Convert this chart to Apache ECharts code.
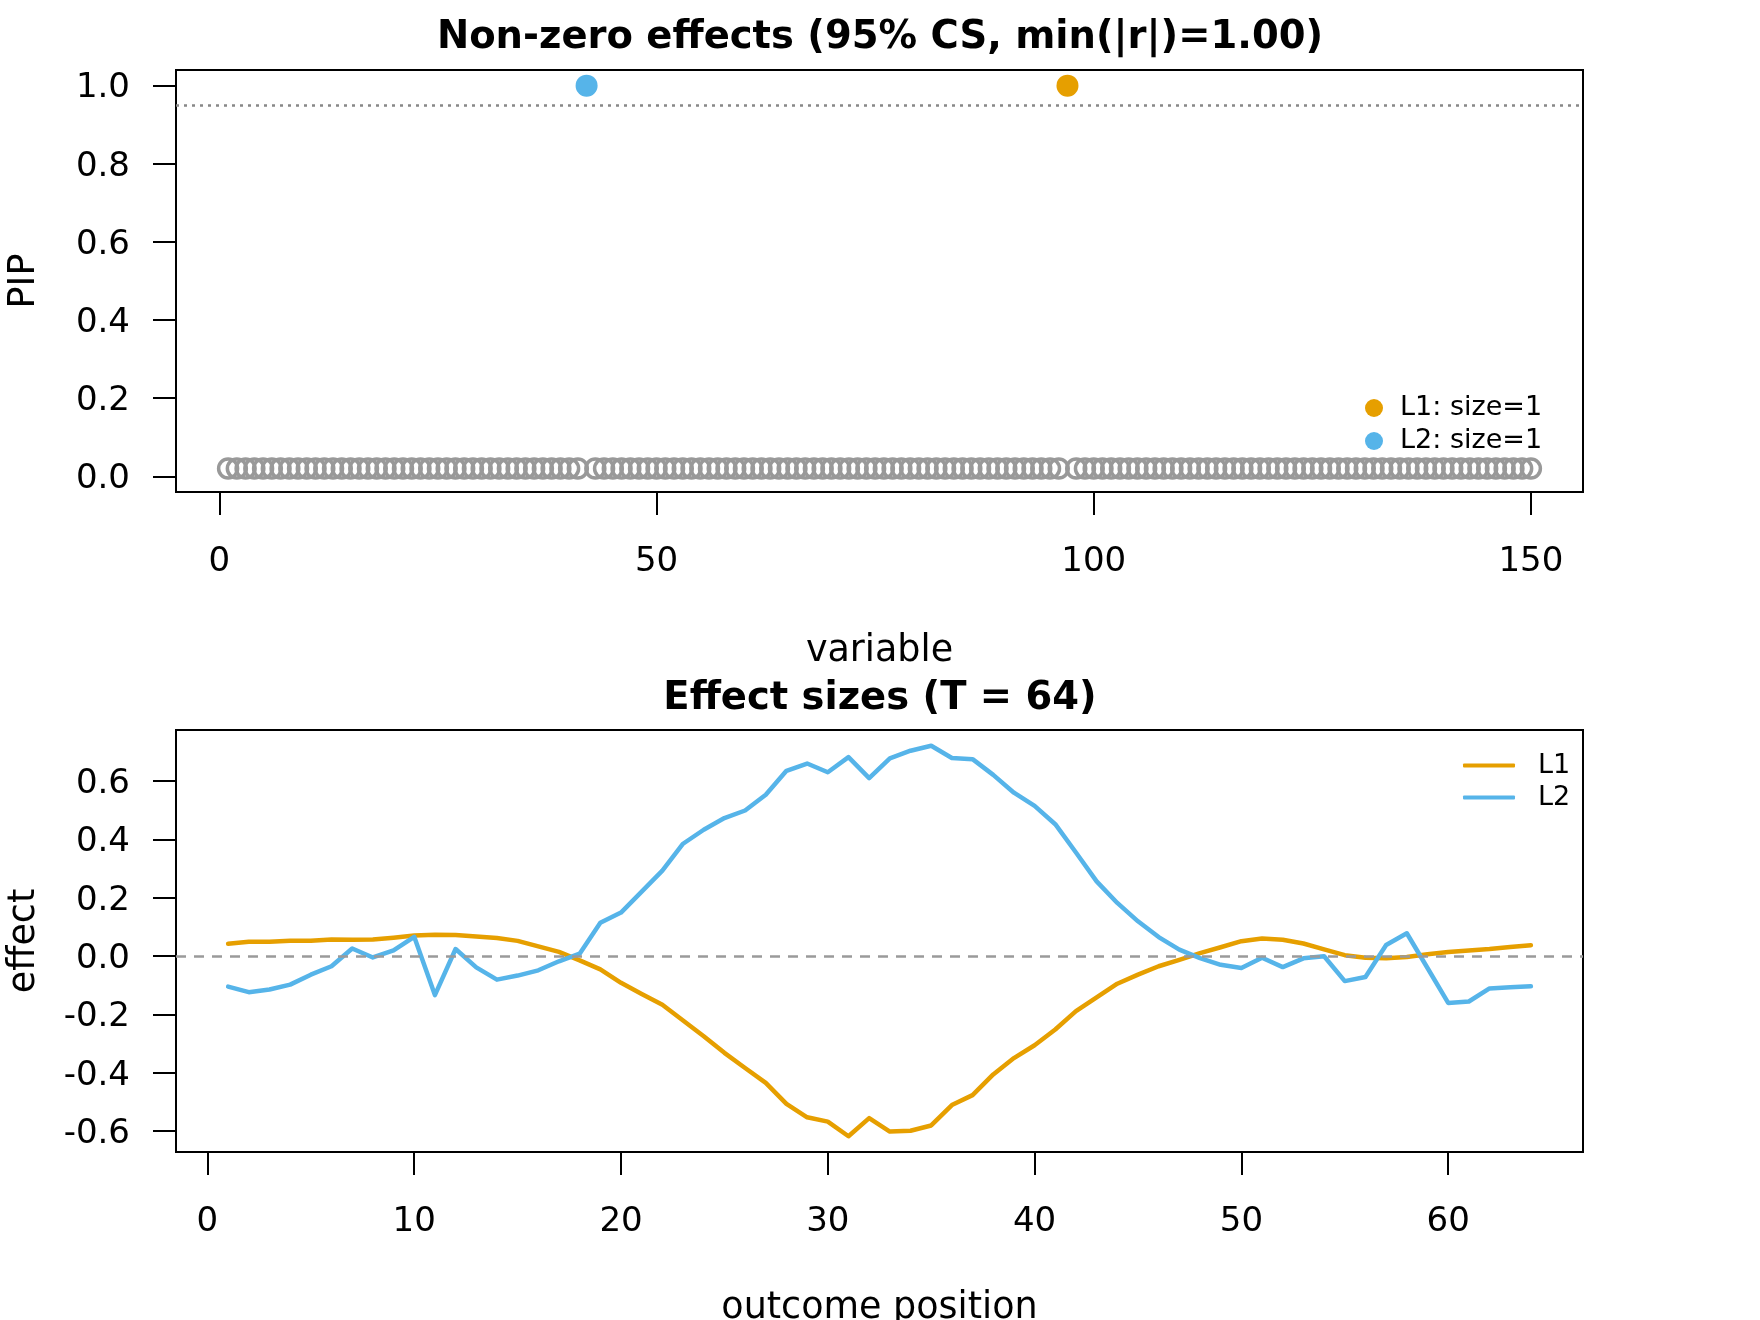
<!DOCTYPE html>
<html>
<head>
<meta charset="utf-8">
<script src="https://cdn.jsdelivr.net/npm/echarts@6/dist/echarts.min.js"></script>
<style>
html, body { margin: 0; padding: 0; background: #ffffff; }
#chart { width: 1760px; height: 1320px; }
</style>
</head>
<body>
<div id="chart"></div>
<script>
// ---- data ----
const pip = [
  0.02, 0.02, 0.02, 0.02, 0.02, 0.02, 0.02, 0.02, 0.02, 0.02,
  0.02, 0.02, 0.02, 0.02, 0.02, 0.02, 0.02, 0.02, 0.02, 0.02,
  0.02, 0.02, 0.02, 0.02, 0.02, 0.02, 0.02, 0.02, 0.02, 0.02,
  0.02, 0.02, 0.02, 0.02, 0.02, 0.02, 0.02, 0.02, 0.02, 0.02,
  0.02, 1.00, 0.02, 0.02, 0.02, 0.02, 0.02, 0.02, 0.02, 0.02,
  0.02, 0.02, 0.02, 0.02, 0.02, 0.02, 0.02, 0.02, 0.02, 0.02,
  0.02, 0.02, 0.02, 0.02, 0.02, 0.02, 0.02, 0.02, 0.02, 0.02,
  0.02, 0.02, 0.02, 0.02, 0.02, 0.02, 0.02, 0.02, 0.02, 0.02,
  0.02, 0.02, 0.02, 0.02, 0.02, 0.02, 0.02, 0.02, 0.02, 0.02,
  0.02, 0.02, 0.02, 0.02, 0.02, 0.02, 1.00, 0.02, 0.02, 0.02,
  0.02, 0.02, 0.02, 0.02, 0.02, 0.02, 0.02, 0.02, 0.02, 0.02,
  0.02, 0.02, 0.02, 0.02, 0.02, 0.02, 0.02, 0.02, 0.02, 0.02,
  0.02, 0.02, 0.02, 0.02, 0.02, 0.02, 0.02, 0.02, 0.02, 0.02,
  0.02, 0.02, 0.02, 0.02, 0.02, 0.02, 0.02, 0.02, 0.02, 0.02,
  0.02, 0.02, 0.02, 0.02, 0.02, 0.02, 0.02, 0.02, 0.02, 0.02
];
const csVariables = [[97], [42]];           // credible sets L1, L2 (variable index)
const csNames = ['L1: size=1', 'L2: size=1'];
const pipTicks = [0, 0.2, 0.4, 0.6, 0.8, 1.0];
const variableTicks = [0, 50, 100, 150];

const positions = [
  1, 2, 3, 4, 5, 6, 7, 8, 9, 10, 11, 12, 13, 14, 15, 16,
  17, 18, 19, 20, 21, 22, 23, 24, 25, 26, 27, 28, 29, 30, 31, 32,
  33, 34, 35, 36, 37, 38, 39, 40, 41, 42, 43, 44, 45, 46, 47, 48,
  49, 50, 51, 52, 53, 54, 55, 56, 57, 58, 59, 60, 61, 62, 63, 64
];
const effectL1 = [
  0.042, 0.049, 0.049, 0.052, 0.052, 0.057, 0.056, 0.057, 0.063, 0.070,
  0.073, 0.072, 0.067, 0.062, 0.052, 0.033, 0.014, -0.015, -0.046, -0.092,
  -0.130, -0.167, -0.221, -0.275, -0.332, -0.384, -0.435, -0.507, -0.553, -0.568,
  -0.618, -0.556, -0.602, -0.599, -0.581, -0.511, -0.477, -0.406, -0.350, -0.306,
  -0.252, -0.189, -0.142, -0.095, -0.064, -0.035, -0.013, 0.010, 0.030, 0.051,
  0.060, 0.056, 0.043, 0.023, 0.003, -0.006, -0.008, -0.003, 0.006, 0.014,
  0.019, 0.024, 0.031, 0.037
];
const effectL2 = [
  -0.105, -0.124, -0.115, -0.098, -0.064, -0.035, 0.026, -0.005, 0.019, 0.066,
  -0.134, 0.024, -0.039, -0.081, -0.067, -0.049, -0.018, 0.008, 0.114, 0.149,
  0.221, 0.293, 0.385, 0.433, 0.473, 0.499, 0.553, 0.635, 0.660, 0.630,
  0.682, 0.610, 0.678, 0.704, 0.721, 0.679, 0.675, 0.621, 0.560, 0.515,
  0.452, 0.355, 0.256, 0.182, 0.119, 0.065, 0.022, -0.007, -0.030, -0.041,
  -0.006, -0.038, -0.008, -0.001, -0.086, -0.072, 0.038, 0.078, -0.041, -0.161,
  -0.156, -0.111, -0.107, -0.104
];
const effectNames = ['L1', 'L2'];
const effectTicks = [-0.6, -0.4, -0.2, 0.0, 0.2, 0.4, 0.6];
const positionTicks = [0, 10, 20, 30, 40, 50, 60];

// ---- styling ----
const FONT = 'DejaVu Sans';
const csColors = ['#E69F00', '#56B4E9'];
const GRAY = '#999999';

function axisCommon(gridIndex, min, max, ticks, fmt, name, nameGap, isY) {
  const label = {
    show: true,
    customValues: ticks,
    margin: isY ? 46 : 53,
    fontFamily: FONT, fontSize: 34, color: '#000',
    formatter: isY ? (v => '{t|' + fmt(v) + '}') : fmt
  };
  if (isY) {
    label.rich = { t: { fontFamily: FONT, fontSize: 34, color: '#000', padding: [6, 0, 0, 0] } };
  }
  return {
    type: 'value',
    gridIndex: gridIndex,
    min: min,
    max: max,
    name: name,
    nameLocation: 'middle',
    nameGap: nameGap,
    nameTextStyle: { fontFamily: FONT, fontSize: 36.5, color: '#000' },
    axisLine: { show: false, onZero: false },
    splitLine: { show: false },
    axisTick: {
      show: true, inside: false, length: 23,
      customValues: ticks,
      lineStyle: { color: '#000', width: 2 }
    },
    axisLabel: label
  };
}

const fmt1 = v => Number(v).toFixed(1);
const fmt0 = v => String(v);

const inCS = new Set(csVariables.flat());
const grayData = [];
pip.forEach((v, i) => { if (!inCS.has(i + 1)) grayData.push([i + 1, v]); });

const series = [];
series.push({
  type: 'scatter', name: 'variables', xAxisIndex: 0, yAxisIndex: 0,
  data: grayData, symbol: 'circle', symbolSize: 19,
  itemStyle: { color: 'rgba(0,0,0,0)', borderColor: GRAY, borderWidth: 3.5, opacity: 1 },
  z: 2,
  markLine: {
    silent: true, symbol: 'none', label: { show: false },
    lineStyle: { color: '#888888', type: [3, 5], width: 2.5 },
    data: [{ yAxis: 0.95 }]
  }
});
csVariables.forEach((vars, k) => {
  series.push({
    type: 'scatter', name: csNames[k], xAxisIndex: 0, yAxisIndex: 0,
    data: vars.map(j => [j, pip[j - 1]]),
    symbol: 'circle', symbolSize: 22,
    itemStyle: { color: csColors[k], opacity: 1 },
    z: 3
  });
});
[effectL1, effectL2].forEach((vals, k) => {
  const s = {
    type: 'line', name: effectNames[k], xAxisIndex: 1, yAxisIndex: 1,
    data: positions.map((p, i) => [p, vals[i]]),
    showSymbol: false, symbol: 'none',
    lineStyle: { color: csColors[k], width: 4.5, cap: 'round', join: 'round' },
    itemStyle: { color: csColors[k] },
    z: 3
  };
  if (k === 0) {
    s.markLine = {
      silent: true, symbol: 'none', label: { show: false },
      lineStyle: { color: '#9a9a9a', type: [10, 8], width: 2.5 },
      data: [{ yAxis: 0 }]
    };
  }
  series.push(s);
});

const option = {
  backgroundColor: '#ffffff',
  animation: false,
  title: [
    { text: 'Non-zero effects (95% CS, min(|r|)=1.00)', left: 'center', top: 18, padding: 0,
      textStyle: { fontFamily: FONT, fontSize: 38.5, fontWeight: 'bold', color: '#000' } },
    { text: 'Effect sizes (T = 64)', left: 'center', top: 679, padding: 0,
      textStyle: { fontFamily: FONT, fontSize: 38.5, fontWeight: 'bold', color: '#000' } }
  ],
  grid: [
    { left: 176, top: 70, width: 1407, height: 422, show: true, borderColor: '#000', borderWidth: 2,
      backgroundColor: 'transparent', containLabel: false, outerBoundsMode: 'none' },
    { left: 176, top: 730, width: 1407, height: 422, show: true, borderColor: '#000', borderWidth: 2,
      backgroundColor: 'transparent', containLabel: false, outerBoundsMode: 'none' }
  ],
  legend: [
    { data: csNames, orient: 'vertical', left: 1365, top: 394.5, padding: 0, itemGap: 6,
      icon: 'circle', itemWidth: 18, itemHeight: 18, selectedMode: false,
      itemStyle: { opacity: 1 },
      textStyle: { fontFamily: FONT, fontSize: 27, color: '#000', padding: [0, 0, 0, 12] } },
    { data: effectNames, orient: 'vertical', left: 1463, top: 752, padding: 0, itemGap: 5,
      icon: 'roundRect', itemWidth: 52, itemHeight: 4, selectedMode: false,
      textStyle: { fontFamily: FONT, fontSize: 27, color: '#000', padding: [0, 0, 0, 18] } }
  ],
  xAxis: [
    axisCommon(0, -4.96, 155.96, variableTicks, fmt0, 'variable', 141, false),
    axisCommon(1, -1.52, 66.52, positionTicks, fmt0, 'outcome position', 138, false)
  ],
  yAxis: [
    axisCommon(0, -0.04, 1.04, pipTicks, fmt1, 'PIP', 133, true),
    axisCommon(1, -0.672, 0.775, effectTicks, fmt1, 'effect', 133, true)
  ],
  series: series
};

const chart = echarts.init(document.getElementById('chart'), null, { renderer: 'canvas' });
chart.setOption(option);
</script>
</body>
</html>
